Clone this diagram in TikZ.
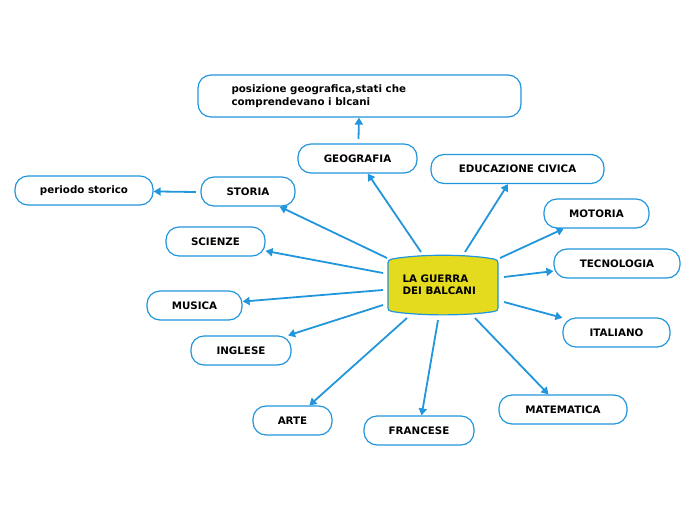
\documentclass[tikz,border=0pt]{standalone}
\usepackage{fontspec}
\setmainfont{DejaVu Sans}
\usetikzlibrary{arrows.meta}
\definecolor{lblue}{RGB}{33,150,220}
\definecolor{cyel}{RGB}{228,218,30}
\tikzset{
  box/.style={draw=lblue, line width=1.2pt, rounded corners=13pt, fill=white, inner sep=0pt, font=\fontsize{10.3}{13}\selectfont\bfseries},
  arr/.style={draw=lblue, line width=1.8pt, -{Triangle[length=7pt,width=8pt]}},
}
\begin{document}
\begin{tikzpicture}[x=1pt,y=-1pt]
\useasboundingbox (0,0) rectangle (696,520);
% central node
\path[draw=lblue, line width=1.2pt, fill=cyel]
  (392,259) .. controls (420,254) and (466,254) .. (494,259)
  .. controls (497,259.5) and (498,261) .. (498,263)
  -- (498,308)
  .. controls (498,310) and (497,311) .. (494,311.5)
  .. controls (466,316) and (420,316) .. (392,311.5)
  .. controls (389,311) and (388,310) .. (388,308)
  -- (388,263)
  .. controls (388,261) and (389,259.5) .. (392,259) -- cycle;
\node[minimum width=110pt, minimum height=58pt, inner sep=0pt] (main) at (443,285) {};
\node[anchor=west, align=left, font=\fontsize{10.3}{12}\selectfont\bfseries] (maint) at (399,285) {LA GUERRA\\DEI BALCANI};

\node[box, minimum width=323pt, minimum height=42pt] (pos) at (359.5,96) {};
\node[anchor=west, align=left, font=\fontsize{10.3}{13}\selectfont\bfseries] (post) at (228,96.5) {posizione geografica,stati che\\comprendevano i blcani};

\node[box, minimum width=119pt, minimum height=29pt] (geo) at (357.5,158.5) {GEOGRAFIA};
\node[box, minimum width=173pt, minimum height=29pt] (edu) at (517.5,169) {EDUCAZIONE CIVICA};
\node[box, minimum width=94pt, minimum height=29pt] (sto) at (248,191.5) {STORIA};
\node[box, minimum width=138pt, minimum height=29pt] (per) at (84,190.5) {periodo storico};
\node[box, minimum width=105pt, minimum height=29pt] (mot) at (596.5,213.5) {MOTORIA};
\node[box, minimum width=99pt, minimum height=29pt] (sci) at (215.5,241.5) {SCIENZE};
\node[box, minimum width=126pt, minimum height=29pt] (tec) at (617,263.5) {TECNOLOGIA};
\node[box, minimum width=95pt, minimum height=29pt] (mus) at (194.5,305.5) {MUSICA};
\node[box, minimum width=107pt, minimum height=29pt] (ita) at (616.5,332.5) {ITALIANO};
\node[box, minimum width=100pt, minimum height=29pt] (ing) at (241,350.5) {INGLESE};
\node[box, minimum width=79pt, minimum height=29pt] (art) at (292.5,420.5) {ARTE};
\node[box, minimum width=110pt, minimum height=29pt] (fra) at (419,430.5) {FRANCESE};
\node[box, minimum width=128pt, minimum height=29pt] (mat) at (563,409.5) {MATEMATICA};

% start coordinates (connector free ends near the central node)
\coordinate (sGeo) at (421,252);
\coordinate (sEdu) at (465,252);
\coordinate (sSto) at (387,258);
\coordinate (sSci) at (383,273);
\coordinate (sMus) at (383,290);
\coordinate (sIng) at (383,305);
\coordinate (sArt) at (407,318);
\coordinate (sFra) at (438,320);
\coordinate (sMat) at (475,318);
\coordinate (sIta) at (504,302);
\coordinate (sTec) at (504,277);
\coordinate (sMot) at (500,258);
\coordinate (sPer) at (196,192);
\coordinate (sPos) at (358.5,139);

\draw[arr] (sGeo) -- (geo);
\draw[arr] (sEdu) -- (edu);
\draw[arr] (sSto) -- (sto);
\draw[arr] (sSci) -- (sci);
\draw[arr] (sMus) -- (mus);
\draw[arr] (sIng) -- (ing);
\draw[arr] (sArt) -- (art);
\draw[arr] (sFra) -- (fra);
\draw[arr] (sMat) -- (mat);
\draw[arr] (sIta) -- (ita);
\draw[arr] (sTec) -- (tec);
\draw[arr] (sMot) -- (mot);
\draw[arr] (sPer) -- (per);
\draw[arr] (sPos) -- (pos);
\end{tikzpicture}
\end{document}
